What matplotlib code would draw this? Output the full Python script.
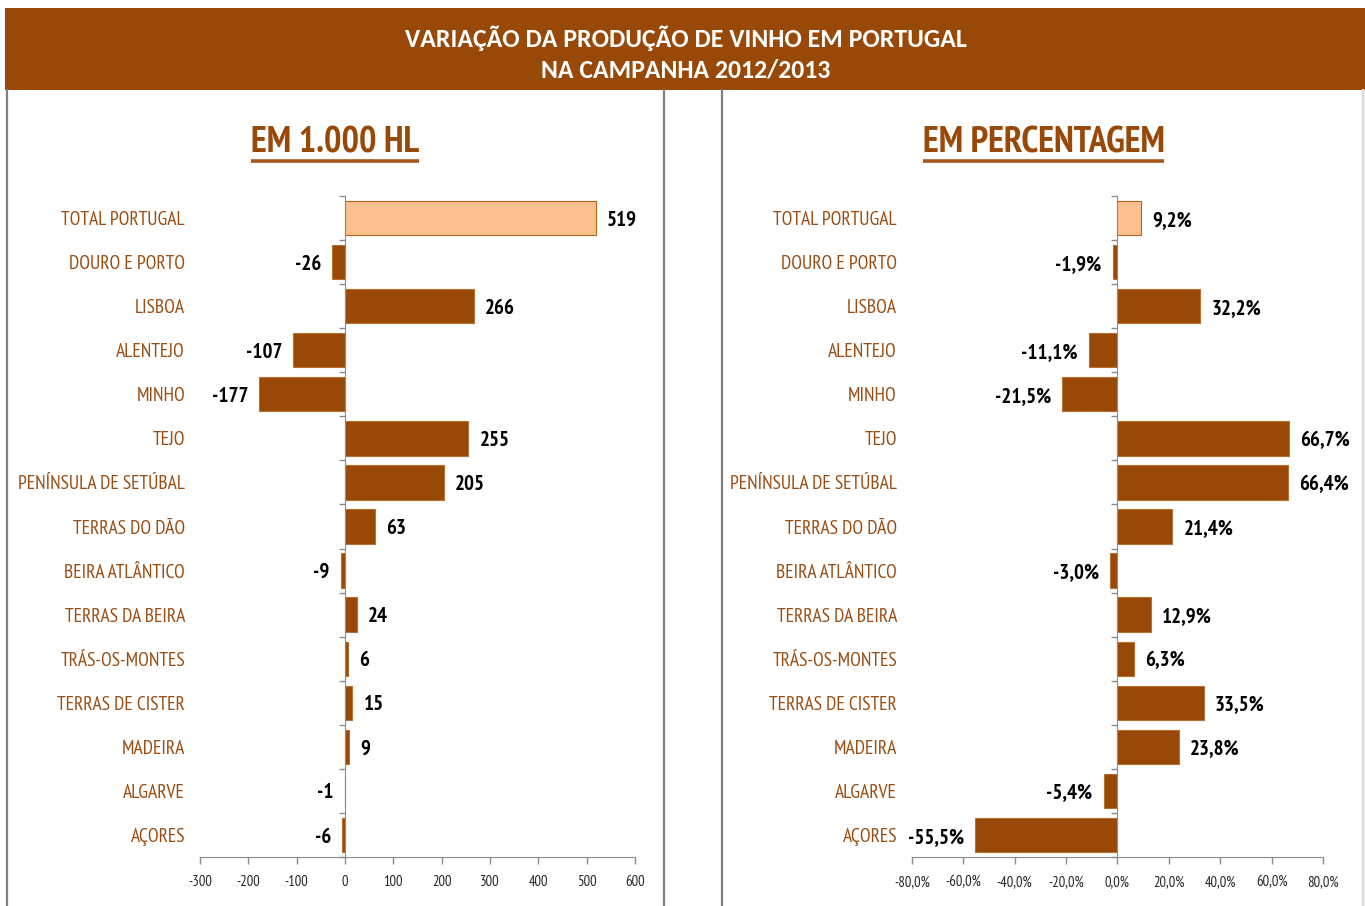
import matplotlib
matplotlib.use("Agg")
import matplotlib.pyplot as plt
from matplotlib.patches import Rectangle
from matplotlib.lines import Line2D
import matplotlib.transforms as mtransforms

# ---------------- data ----------------
categories = ["TOTAL PORTUGAL", "DOURO E PORTO", "LISBOA", "ALENTEJO", "MINHO", "TEJO",
              "PENÍNSULA DE SETÚBAL", "TERRAS DO DÃO", "BEIRA ATLÂNTICO", "TERRAS DA BEIRA",
              "TRÁS-OS-MONTES", "TERRAS DE CISTER", "MADEIRA", "ALGARVE", "AÇORES"]
values_khl = [519, -26, 266, -107, -177, 255, 205, 63, -9, 24, 6, 15, 9, -1, -6]
values_pct = [9.2, -1.9, 32.2, -11.1, -21.5, 66.7, 66.4, 21.4, -3.0, 12.9, 6.3, 33.5, 23.8, -5.4, -55.5]
ticks_khl = [-300, -200, -100, 0, 100, 200, 300, 400, 500, 600]
ticks_pct = [-80, -60, -40, -20, 0, 20, 40, 60, 80]
title_lines = ["VARIAÇÃO DA PRODUÇÃO DE VINHO EM PORTUGAL", "NA CAMPANHA 2012/2013"]
panel_titles = ["EM 1.000 HL", "EM PERCENTAGEM"]

# ---------------- style ----------------
BROWN = "#984807"
LIGHT = "#FAC090"
LABEL_C = "#9A4D12"
NARROW = ["PT Sans Narrow", "Liberation Sans Narrow", "DejaVu Sans"]
TITLEF = ["Carlito", "Open Sans", "DejaVu Sans"]
W, H = 1365, 906

plt.rcParams['font.family'] = NARROW
fig = plt.figure(figsize=(W / 100, H / 100), dpi=100)
fig.patch.set_facecolor("white")


def fx(x):
    return x / W


def fy(y):
    return 1 - y / H


# header band
fig.patches.append(Rectangle((fx(5), fy(90)), fx(1360), 82 / H, transform=fig.transFigure,
                             facecolor=BROWN, edgecolor="none", zorder=0))
fig.text(fx(686), fy(38), title_lines[0], color="white", fontsize=18.5, fontweight="bold",
         family=TITLEF, ha="center", va="center")
fig.text(fx(686), fy(70), title_lines[1], color="white", fontsize=18.5, fontweight="bold",
         family=TITLEF, ha="center", va="center")

# panel borders
for x, c in [(6.5, "#808080"), (663.5, "#808080"), (721.5, "#808080"), (1363, "#d9d9d9")]:
    fig.lines.append(Line2D([fx(x), fx(x)], [fy(90), fy(906)], transform=fig.transFigure,
                            color=c, lw=1.6))


def make_panel(left_px, right_px, values, ticks, fmt_val, fmt_tick, title, title_x):
    ax = fig.add_axes([fx(left_px), fy(857), fx(right_px - left_px), (857 - 196) / H])
    n = len(categories)
    ypos = list(range(n))
    colors = [LIGHT] + [BROWN] * (n - 1)
    edges = ["#B86418"] + ["#B8702E"] * (n - 1)
    ax.barh(ypos, values, height=0.78, color=colors, edgecolor=edges, linewidth=0.8, zorder=2)
    ax.set_ylim(n - 0.5, -0.5)
    ax.set_xlim(ticks[0], ticks[-1])
    ax.set_xticks(ticks)
    ax.set_xticklabels([fmt_tick(t) for t in ticks], fontsize=10.5, color="#262626")
    ax.tick_params(axis="x", direction="out", length=5, width=1, color="#8c8c8c", pad=8)
    ax.set_yticks([])
    ax.set_yticks([i - 0.5 for i in range(n + 1)], minor=True)
    ax.tick_params(axis="y", which="minor", direction="out", length=4, width=1, color="#8c8c8c")
    for s in ["top", "right"]:
        ax.spines[s].set_visible(False)
    ax.spines["left"].set_position(("data", 0))
    ax.spines["left"].set_color("#8c8c8c")
    ax.spines["bottom"].set_color("#8c8c8c")
    ax.spines["left"].set_zorder(3)
    ax.patch.set_alpha(0)

    trans = mtransforms.blended_transform_factory(ax.transAxes, ax.transData)
    trans = mtransforms.offset_copy(trans, fig=fig, x=-15, y=-2, units="dots")
    for i, c in enumerate(categories):
        ax.text(0, i, c, transform=trans, ha="right", va="center", fontsize=14, color=LABEL_C,
                clip_on=False)
    for i, v in enumerate(values):
        off = 8 if v >= 0 else -8
        ax.annotate(fmt_val(v), xy=(v, i), xytext=(off, -1.5), textcoords="offset points",
                    ha="left" if v >= 0 else "right", va="center", fontsize=15,
                    fontweight="bold", color="black")
    t = fig.text(fx(title_x), fy(143), title, color=BROWN, fontsize=26.5, fontweight="bold",
                 ha="center", va="center")
    return ax, t


ax1, t1 = make_panel(200, 635, values_khl, ticks_khl, lambda v: f"{v}", lambda t: f"{t}",
                     panel_titles[0], 335)
ax2, t2 = make_panel(912, 1323, values_pct, ticks_pct,
                     lambda v: f"{v:.1f}".replace(".", ",") + "%",
                     lambda t: f"{t:.1f}".replace(".", ",") + "%",
                     panel_titles[1], 1043.5)

# underline panel titles
fig.canvas.draw()
r = fig.canvas.get_renderer()
for t in (t1, t2):
    bb = t.get_window_extent(renderer=r)
    fig.lines.append(Line2D([bb.x0 / W, bb.x1 / W], [fy(160.5), fy(160.5)], transform=fig.transFigure,
                            color="#A5561A", lw=2.6, solid_capstyle="butt"))

fig.savefig("out.png", dpi=100, facecolor="white")
